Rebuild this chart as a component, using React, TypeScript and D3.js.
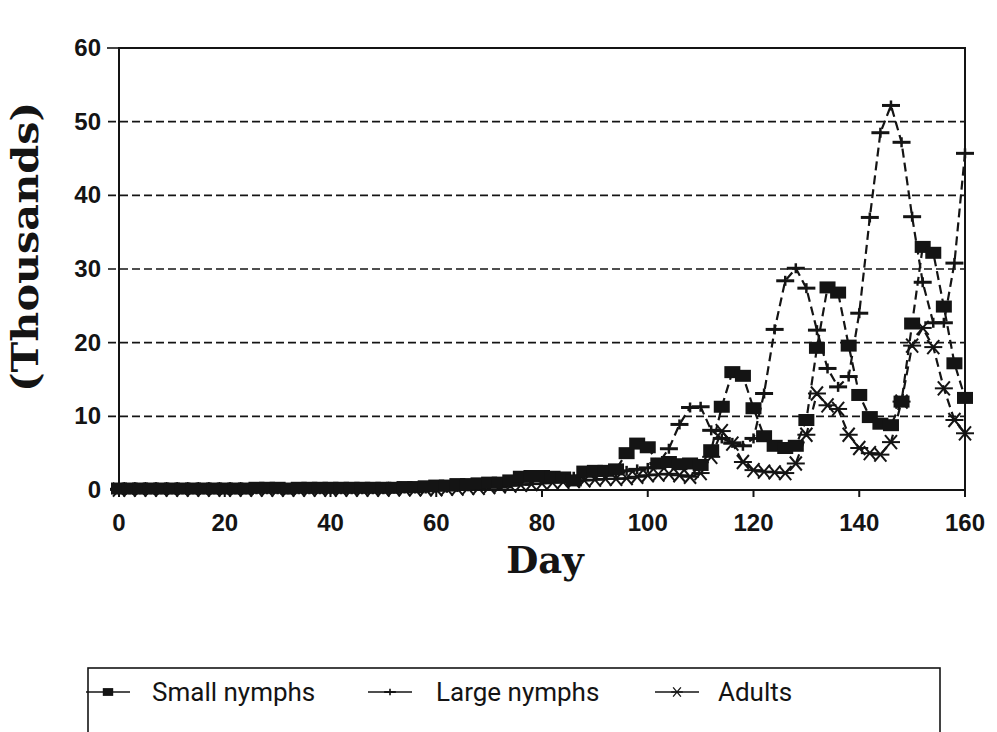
import React from 'react';
import { scaleLinear, line } from 'd3';

// days sampled every 2 days, 0..160
const DAYS = Array.from({ length: 81 }, (_, i) => i * 2);

const SMALL_NYMPHS = [
  0.2, 0.2, 0.2, 0.2, 0.2, 0.2, 0.2, 0.2, 0.2, 0.2, 0.2,
  0.2, 0.2, 0.3, 0.3, 0.3, 0.2, 0.3, 0.3, 0.3, 0.3,
  0.3, 0.3, 0.3, 0.3, 0.3, 0.3, 0.4, 0.4, 0.5,
  0.6, 0.6, 0.8, 0.8, 0.9, 1.0, 1.0, 1.3,
  1.8, 1.9, 1.9, 1.8, 1.7, 1.3, 2.5, 2.6, 2.6, 2.8,
  5.0, 6.3, 5.8, 3.6, 3.8, 3.5, 3.6, 3.4, 5.4, 11.3,
  16.0, 15.5, 11.1, 7.3, 6.0, 5.7, 6.0, 9.5, 19.3, 27.5,
  26.8, 19.6, 12.9, 9.9, 9.0, 8.8, 12.0, 22.6, 33.0, 32.2,
  24.9, 17.2, 12.5,
];

const LARGE_NYMPHS = [
  0.1, 0.1, 0.1, 0.1, 0.1, 0.1, 0.1, 0.1, 0.1, 0.1, 0.1,
  0.1, 0.1, 0.1, 0.1, 0.1, 0.1, 0.1, 0.1, 0.1, 0.1,
  0.1, 0.1, 0.1, 0.1, 0.1, 0.2, 0.2, 0.2, 0.2,
  0.3, 0.3, 0.4, 0.5, 0.6, 0.7, 0.8, 0.9,
  1.2, 1.4, 1.5, 1.5, 1.6, 1.8, 1.9, 2.0, 2.2, 2.4,
  2.6, 2.8, 3.0, 3.6, 5.6, 8.9, 11.2, 11.3, 8.1, 7.0,
  6.4, 6.0, 7.0, 13.1, 21.8, 28.4, 30.1, 27.4, 21.7, 16.5,
  14.0, 15.4, 24.0, 37.0, 48.5, 52.2, 47.2, 37.1, 28.2, 22.7,
  22.7, 30.8, 45.7,
];

const ADULTS = [
  0.05, 0.05, 0.05, 0.05, 0.05, 0.05, 0.05, 0.05, 0.05, 0.05, 0.05,
  0.05, 0.05, 0.05, 0.05, 0.05, 0.05, 0.05, 0.05, 0.05, 0.05,
  0.05, 0.05, 0.05, 0.05, 0.05, 0.1, 0.1, 0.1, 0.1,
  0.1, 0.2, 0.2, 0.3, 0.3, 0.4, 0.5, 0.6,
  0.7, 0.8, 0.9, 1.0, 1.1, 1.2, 1.3, 1.4, 1.5, 1.5,
  1.6, 1.8, 2.0, 2.1, 2.2, 2.0, 1.8, 2.3, 4.5, 8.0,
  6.3, 3.8, 2.7, 2.5, 2.4, 2.3, 3.6, 7.5, 13.1, 11.5,
  11.0, 7.5, 5.7, 5.0, 4.8, 6.5, 12.0, 19.6, 22.0, 19.4,
  13.8, 9.5, 7.7,
];

const X_TICKS = [0, 20, 40, 60, 80, 100, 120, 140, 160];
const Y_TICKS = [0, 10, 20, 30, 40, 50, 60];
const GRID_TICKS = [10, 20, 30, 40, 50];

const INK = '#141414';
const W = 997;
const H = 732;

type Kind = 'square' | 'plus' | 'star';

function Marker({ kind, x, y, s = 1 }: { kind: Kind; x: number; y: number; s?: number }) {
  if (kind === 'square') {
    return <rect x={x - 8 * s} y={y - 6 * s} width={16 * s} height={12 * s} fill={INK} />;
  }
  if (kind === 'plus') {
    return (
      <g stroke={INK}>
        <line x1={x - 9 * s} x2={x + 9 * s} y1={y} y2={y} strokeWidth={3 * s} />
        <line x1={x} x2={x} y1={y - 5 * s} y2={y + 5 * s} strokeWidth={2.5 * s} />
      </g>
    );
  }
  return (
    <g stroke={INK} strokeWidth={2 * s}>
      <line x1={x - 9 * s} x2={x + 9 * s} y1={y} y2={y} />
      <line x1={x - 6 * s} x2={x + 6 * s} y1={y - 7 * s} y2={y + 7 * s} />
      <line x1={x - 6 * s} x2={x + 6 * s} y1={y + 7 * s} y2={y - 7 * s} />
    </g>
  );
}

export default function App() {
  const x = scaleLinear().domain([0, 160]).range([119, 965]);
  const y = scaleLinear().domain([0, 60]).range([490, 48]);

  const series: { name: string; kind: Kind; values: number[] }[] = [
    { name: 'Adults', kind: 'star', values: ADULTS },
    { name: 'Large nymphs', kind: 'plus', values: LARGE_NYMPHS },
    { name: 'Small nymphs', kind: 'square', values: SMALL_NYMPHS },
  ];

  const lineGen = line<number>()
    .x((_, i) => x(DAYS[i]))
    .y((v) => y(v));

  const legend: { name: string; kind: Kind; lx: number; tx: number }[] = [
    { name: 'Small nymphs', kind: 'square', lx: 108, tx: 152 },
    { name: 'Large nymphs', kind: 'plus', lx: 390, tx: 436 },
    { name: 'Adults', kind: 'star', lx: 677, tx: 718 },
  ];

  const tickFont = { fontFamily: 'Liberation Sans, Arial, sans-serif', fontWeight: 700, fontSize: 24 };

  return (
    <svg
      width={W}
      height={H}
      viewBox={`0 0 ${W} ${H}`}
      style={{ position: 'absolute', left: 0, top: 0, background: '#fff' }}
    >
      <rect width={W} height={H} fill="#fff" />

      {/* dashed grid */}
      {GRID_TICKS.map((t) => (
        <line
          key={t}
          x1={108}
          x2={x(160)}
          y1={y(t)}
          y2={y(t)}
          stroke={INK}
          strokeWidth={1.6}
          strokeDasharray="8,4"
        />
      ))}

      {/* frame */}
      <path
        d={`M${x(0)},${y(60)}H${x(160)}V${y(0)}H${x(0)}Z`}
        fill="none"
        stroke={INK}
        strokeWidth={2}
      />
      <line x1={107} x2={x(0)} y1={y(60)} y2={y(60)} stroke={INK} strokeWidth={1.6} />

      {/* y ticks */}
      {Y_TICKS.map((t) => (
        <text key={t} x={101} y={y(t) + 8} textAnchor="end" fill={INK} style={tickFont}>
          {t}
        </text>
      ))}

      {/* x ticks */}
      {X_TICKS.map((t) => (
        <g key={t}>
          <line x1={x(t)} x2={x(t)} y1={y(0)} y2={y(0) + 7} stroke={INK} strokeWidth={2} />
          <text x={x(t)} y={531} textAnchor="middle" fill={INK} style={tickFont}>
            {t}
          </text>
        </g>
      ))}

      {/* series */}
      {series.map((s) => (
        <g key={s.name}>
          <path
            d={lineGen(s.values) ?? ''}
            fill="none"
            stroke={INK}
            strokeWidth={2.2}
            strokeDasharray="9,5"
          />
          {s.values.map((v, i) => (
            <Marker key={i} kind={s.kind} x={x(DAYS[i])} y={y(v)} />
          ))}
        </g>
      ))}

      {/* axis titles */}
      <text
        transform="translate(38,247) rotate(-90)"
        textAnchor="middle"
        textLength={290}
        lengthAdjust="spacingAndGlyphs"
        fill={INK}
        style={{ fontFamily: 'DejaVu Serif, serif', fontWeight: 700, fontSize: 37 }}
      >
        (Thousands)
      </text>
      <text
        x={545}
        y={573}
        textAnchor="middle"
        fill={INK}
        style={{ fontFamily: 'DejaVu Serif, serif', fontWeight: 700, fontSize: 37 }}
      >
        Day
      </text>

      {/* legend */}
      <rect x={88} y={668} width={852} height={80} fill="none" stroke={INK} strokeWidth={1.6} />
      {legend.map((l) => (
        <g key={l.name}>
          <line x1={l.lx - 22} x2={l.lx + 22} y1={692} y2={692} stroke={INK} strokeWidth={1.6} />
          <Marker kind={l.kind} x={l.lx} y={692} s={0.65} />
          <text
            x={l.tx}
            y={701}
            fill={INK}
            style={{ fontFamily: 'Roboto, Liberation Sans, sans-serif', fontSize: 26 }}
          >
            {l.name}
          </text>
        </g>
      ))}
    </svg>
  );
}
